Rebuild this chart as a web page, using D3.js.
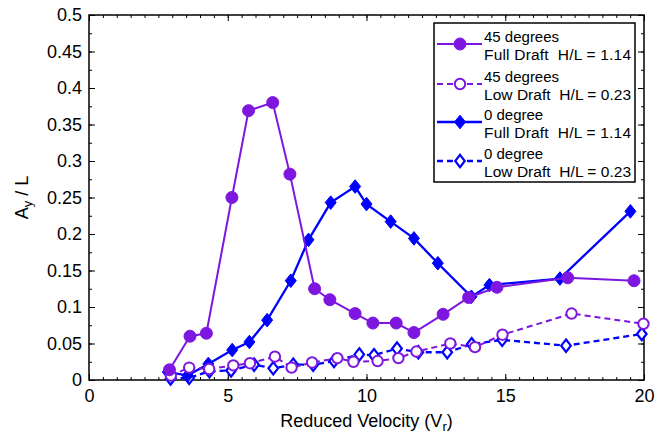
<!DOCTYPE html>
<html>
<head>
<meta charset="utf-8">
<script src="https://cdn.jsdelivr.net/npm/d3@7/dist/d3.min.js"></script>
<style>
  html, body { margin: 0; padding: 0; background: #fff; }
  svg { display: block; font-family: "Liberation Sans", Arial, sans-serif; }
  text { white-space: pre; }
</style>
</head>
<body>
<svg id="chart" width="666" height="438"></svg>
<script>
// Reduced velocity (x) and amplitude ratio (y) for each series
const vr45Full = [2.9, 3.64, 4.23, 5.15, 5.75, 6.62, 7.24, 8.13, 8.68, 9.59, 10.23, 11.07, 11.71, 12.76, 13.68, 14.70, 17.25, 19.64];
const ay45Full = [0.014, 0.060, 0.064, 0.250, 0.369, 0.380, 0.282, 0.125, 0.110, 0.091, 0.078, 0.078, 0.065, 0.090, 0.113, 0.127, 0.140, 0.136];

const vr45Low = [2.95, 3.61, 4.33, 5.20, 5.80, 6.70, 7.30, 8.04, 8.95, 9.53, 10.40, 11.15, 11.80, 13.02, 13.91, 14.90, 17.39, 19.98];
const ay45Low = [0.006, 0.017, 0.015, 0.020, 0.023, 0.032, 0.017, 0.024, 0.030, 0.025, 0.026, 0.030, 0.039, 0.050, 0.045, 0.062, 0.091, 0.077];

const vr0Full = [2.84, 3.55, 4.30, 5.16, 5.78, 6.42, 7.27, 7.91, 8.71, 9.59, 10.0, 10.87, 11.71, 12.57, 13.78, 14.43, 16.97, 19.51];
const ay0Full = [0.011, 0.006, 0.022, 0.041, 0.052, 0.082, 0.136, 0.192, 0.243, 0.265, 0.241, 0.217, 0.194, 0.160, 0.114, 0.130, 0.139, 0.231];

const vr0Low = [2.94, 3.61, 4.34, 5.12, 5.95, 6.64, 7.36, 8.08, 8.83, 9.74, 10.27, 11.10, 11.87, 12.91, 13.79, 14.89, 17.19, 19.92];
const ay0Low = [0.002, 0.003, 0.012, 0.013, 0.021, 0.016, 0.021, 0.021, 0.026, 0.035, 0.034, 0.043, 0.038, 0.038, 0.049, 0.055, 0.047, 0.063];

const xTicks = [0, 5, 10, 15, 20];
const yTicks = [0, 0.05, 0.1, 0.15, 0.2, 0.25, 0.3, 0.35, 0.4, 0.45, 0.5];
const legendTitles = ["45 degrees", "45 degrees", "0 degree", "0 degree"];
const legendDetails = ["Full Draft  H/L = 1.14", "Low Draft  H/L = 0.23", "Full Draft  H/L = 1.14", "Low Draft  H/L = 0.23"];

const purple = "#7d17e0";
const blue = "#0000ff";

const series = [
  { vr: vr45Full, ay: ay45Full, color: purple, dash: null, marker: "circle", filled: true, width: 2 },
  { vr: vr45Low, ay: ay45Low, color: purple, dash: "6,4", marker: "circle", filled: false, width: 2 },
  { vr: vr0Full, ay: ay0Full, color: blue, dash: null, marker: "diamond", filled: true, width: 2.3 },
  { vr: vr0Low, ay: ay0Low, color: blue, dash: "6,4", marker: "diamond", filled: false, width: 2.3 }
];

const svg = d3.select("#chart");
const plotLeft = 89, plotRight = 644, plotTop = 15, plotBottom = 380;

const x = d3.scaleLinear().domain([0, 20]).range([plotLeft, plotRight]);
const y = d3.scaleLinear().domain([0, 0.5]).range([plotBottom, plotTop]);

const minorX = d3.range(0, 20.001, 0.5);
const minorY = d3.range(0, 0.5001, 0.025);

function styleAxis(g) {
  g.select(".domain").remove();
  g.selectAll("line").attr("stroke", "#000").attr("stroke-width", 1);
}
function styleLabels(g) {
  g.selectAll("text").attr("font-size", 18).attr("fill", "#000")
    .attr("font-family", "Liberation Sans, Arial, sans-serif");
}

// Bottom axis: labelled majors, inward ticks
svg.append("g").attr("transform", `translate(0,${plotBottom})`)
  .call(d3.axisBottom(x).tickValues(minorX).tickSize(-3).tickFormat(""))
  .call(styleAxis);
svg.append("g").attr("transform", `translate(0,${plotBottom})`)
  .call(d3.axisBottom(x).tickValues(xTicks).tickSize(-6).tickPadding(9).tickFormat(d3.format("d")))
  .call(styleAxis).call(styleLabels);
// Top axis mirror
svg.append("g").attr("transform", `translate(0,${plotTop})`)
  .call(d3.axisTop(x).tickValues(minorX).tickSize(-3).tickFormat(""))
  .call(styleAxis);
svg.append("g").attr("transform", `translate(0,${plotTop})`)
  .call(d3.axisTop(x).tickValues(xTicks).tickSize(-6).tickFormat(""))
  .call(styleAxis);

// Left axis
svg.append("g").attr("transform", `translate(${plotLeft},0)`)
  .call(d3.axisLeft(y).tickValues(minorY).tickSize(-3).tickFormat(""))
  .call(styleAxis);
svg.append("g").attr("transform", `translate(${plotLeft},0)`)
  .call(d3.axisLeft(y).tickValues(yTicks).tickSize(-6).tickPadding(7).tickFormat(d => String(+d.toFixed(2))))
  .call(styleAxis).call(styleLabels);
// Right axis mirror
svg.append("g").attr("transform", `translate(${plotRight},0)`)
  .call(d3.axisRight(y).tickValues(minorY).tickSize(-3).tickFormat(""))
  .call(styleAxis);
svg.append("g").attr("transform", `translate(${plotRight},0)`)
  .call(d3.axisRight(y).tickValues(yTicks).tickSize(-6).tickFormat(""))
  .call(styleAxis);

// Frame
svg.append("rect")
  .attr("x", plotLeft).attr("y", plotTop)
  .attr("width", plotRight - plotLeft).attr("height", plotBottom - plotTop)
  .attr("fill", "none").attr("stroke", "#000").attr("stroke-width", 1.5);

// Axis titles
const xt = svg.append("text")
  .attr("x", (plotLeft + plotRight) / 2).attr("y", 427)
  .attr("text-anchor", "middle").attr("font-size", 18);
xt.append("tspan").text("Reduced Velocity (V");
xt.append("tspan").attr("font-size", 13).attr("dy", 4).text("r");
xt.append("tspan").attr("dy", -4).text(")");

const yt = svg.append("text")
  .attr("transform", `translate(28,${(plotTop + plotBottom) / 2}) rotate(-90)`)
  .attr("text-anchor", "middle").attr("font-size", 18);
yt.append("tspan").text("A");
yt.append("tspan").attr("font-size", 13).attr("dy", 4).text("y");
yt.append("tspan").attr("dy", -4).text(" / L");

// Marker drawing
const diamondPath = (w, h) => `M0,${-h}L${w},0L0,${h}L${-w},0Z`;
function drawMarker(g, s, cx, cy) {
  if (s.marker === "circle") {
    g.append("circle").attr("cx", cx).attr("cy", cy)
      .attr("r", s.filled ? 6 : 5.2)
      .attr("fill", s.filled ? s.color : "#fff")
      .attr("stroke", s.color).attr("stroke-width", s.filled ? 1 : 2);
  } else {
    g.append("path").attr("d", s.filled ? diamondPath(5.5, 6.8) : diamondPath(4.8, 6.2))
      .attr("transform", `translate(${cx},${cy})`)
      .attr("fill", s.filled ? s.color : "#fff")
      .attr("stroke", s.color).attr("stroke-width", s.filled ? 1 : 2.2);
  }
}

const line = d3.line().x(d => x(d[0])).y(d => y(d[1]));
const plot = svg.append("g");
// draw in reverse legend order so the first entry sits on top
[3, 2, 1, 0].forEach(i => {
  const s = series[i];
  const pts = s.vr.map((v, j) => [v, s.ay[j]]);
  const g = plot.append("g");
  g.append("path").attr("d", line(pts))
    .attr("fill", "none").attr("stroke", s.color)
    .attr("stroke-width", s.width)
    .attr("stroke-dasharray", s.dash);
  pts.forEach(p => drawMarker(g, s, x(p[0]), y(p[1])));
});

// Legend
const lg = svg.append("g");
lg.append("rect").attr("x", 434).attr("y", 23).attr("width", 201).attr("height", 159)
  .attr("fill", "#fff").attr("stroke", "#000").attr("stroke-width", 1.5);
const entryY = [44, 84, 122, 161];
series.forEach((s, i) => {
  const cy = entryY[i];
  lg.append("line").attr("x1", 437).attr("x2", 482).attr("y1", cy).attr("y2", cy)
    .attr("stroke", s.color).attr("stroke-width", s.width)
    .attr("stroke-dasharray", s.dash);
  drawMarker(lg, s, 460, cy);
  lg.append("text").attr("x", 484).attr("y", cy - 2.5).attr("font-size", 15).text(legendTitles[i]);
  lg.append("text").attr("x", 484).attr("y", cy + 15.5).attr("font-size", 15.5)
    .attr("textLength", 147).attr("lengthAdjust", "spacing").text(legendDetails[i]);
});
</script>
</body>
</html>
